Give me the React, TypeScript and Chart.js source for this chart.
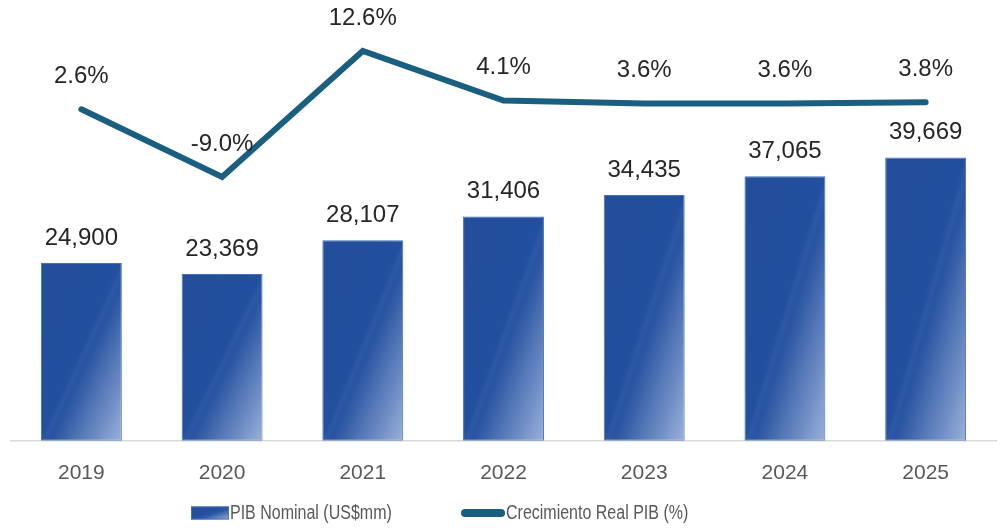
import React, { useEffect, useRef } from "react";
import { Chart, registerables } from "chart.js";

Chart.register(...registerables);

// ---- Data ----
const years: string[] = ["2019", "2020", "2021", "2022", "2023", "2024", "2025"];
const pibNominal: number[] = [24900, 23369, 28107, 31406, 34435, 37065, 39669];
const crecimientoReal: number[] = [2.6, -9.0, 12.6, 4.1, 3.6, 3.6, 3.8];
const barSeriesLabel = "PIB Nominal (US$mm)";
const lineSeriesLabel = "Crecimiento Real PIB (%)";

// ---- Styles ----
const LINE_COLOR = "#1A5F80";
const LABEL_COLOR = "#262626";
const TICK_COLOR = "#595959";
const FONT = '"Liberation Sans", Arial, sans-serif';
const BAR_FRACTION = 0.575;

function barGradient(ctx: CanvasRenderingContext2D, x0: number, y0: number, w: number, h: number) {
  const s = (2 * w * h) / (h * h + w * w);
  const g = ctx.createLinearGradient(x0, y0, x0 + s * h, y0 + s * w);
  g.addColorStop(0, "#234E9B");
  g.addColorStop(0.49, "#224F9E");
  g.addColorStop(0.52, "#2C58A5");
  g.addColorStop(0.56, "#2954A1");
  g.addColorStop(1, "#9AB0DA");
  return g;
}

const fmtThousands = (v: number) => v.toLocaleString("en-US");
const fmtPct = (v: number) => v.toFixed(1) + "%";

const valueLabelsPlugin = {
  id: "valueLabels",
  afterDatasetsDraw(chart: any) {
    const ctx = chart.ctx as CanvasRenderingContext2D;
    ctx.save();
    ctx.font = `24px ${FONT}`;
    ctx.fillStyle = LABEL_COLOR;
    ctx.textAlign = "center";
    ctx.textBaseline = "middle";
    chart.getDatasetMeta(0).data.forEach((el: any, i: number) => {
      ctx.fillText(fmtThousands(pibNominal[i]), el.x, el.y - 25);
    });
    chart.getDatasetMeta(1).data.forEach((el: any, i: number) => {
      ctx.fillText(fmtPct(crecimientoReal[i]), el.x, el.y - 33);
    });
    ctx.restore();
  },
};

function narrowText(ctx: CanvasRenderingContext2D, text: string, x: number, y: number) {
  ctx.save();
  ctx.translate(x, y);
  ctx.scale(0.8, 1);
  ctx.fillText(text, 0, 0);
  ctx.restore();
}

const customLegendPlugin = {
  id: "customLegend",
  afterDraw(chart: any) {
    const ctx = chart.ctx as CanvasRenderingContext2D;
    const cy = chart.height - 15;
    ctx.save();
    // bar swatch
    const bx = 191, bw = 38, bh = 13;
    ctx.fillStyle = barGradient(ctx, bx, cy - bh / 2, bw, bh);
    ctx.fillRect(bx, cy - bh / 2, bw, bh);
    ctx.strokeStyle = "#4470B8";
    ctx.lineWidth = 1;
    ctx.strokeRect(bx + 0.5, cy - bh / 2 + 0.5, bw - 1, bh - 1);
    ctx.font = `20px ${FONT}`;
    ctx.fillStyle = TICK_COLOR;
    ctx.textAlign = "left";
    ctx.textBaseline = "middle";
    narrowText(ctx, chart.data.datasets[0].label, bx + bw + 1, cy);
    // line swatch
    const lx = 465, lw = 36;
    ctx.strokeStyle = LINE_COLOR;
    ctx.lineWidth = 8;
    ctx.lineCap = "round";
    ctx.beginPath();
    ctx.moveTo(lx, cy);
    ctx.lineTo(lx + lw, cy);
    ctx.stroke();
    ctx.fillStyle = TICK_COLOR;
    narrowText(ctx, chart.data.datasets[1].label, lx + lw + 5, cy);
    ctx.restore();
  },
};

export default function App() {
  const canvasRef = useRef<HTMLCanvasElement | null>(null);

  useEffect(() => {
    if (!canvasRef.current) return;
    const chart = new Chart(canvasRef.current, {
      type: "bar",
      data: {
        labels: years,
        datasets: [
          {
            type: "bar",
            label: barSeriesLabel,
            data: pibNominal,
            yAxisID: "y",
            order: 1,
            categoryPercentage: 1,
            barPercentage: BAR_FRACTION,
            borderColor: "#4470B8",
            borderWidth: 1,
            borderSkipped: false,
            backgroundColor: (c: any) => {
              const ch = c.chart;
              const sx = ch.scales?.x;
              const sy = ch.scales?.y;
              if (c.type !== "data" || !sx || !sy || !ch.chartArea) return "#234F9E";
              const catW = (ch.chartArea.right - ch.chartArea.left) / years.length;
              const w = catW * BAR_FRACTION;
              const xc = sx.getPixelForValue(c.dataIndex);
              const top = sy.getPixelForValue(pibNominal[c.dataIndex]);
              const base = sy.getPixelForValue(0);
              return barGradient(ch.ctx, xc - w / 2, top, w, base - top);
            },
          } as any,
          {
            type: "line",
            label: lineSeriesLabel,
            data: crecimientoReal,
            yAxisID: "y1",
            order: 0,
            borderColor: LINE_COLOR,
            backgroundColor: LINE_COLOR,
            borderWidth: 6,
            borderCapStyle: "round",
            borderJoinStyle: "miter",
            pointRadius: 0,
            pointHoverRadius: 0,
            tension: 0,
          } as any,
        ],
      },
      options: {
        animation: false,
        responsive: false,
        events: [],
        layout: { padding: { left: 11, right: 6, top: 0, bottom: 22 } },
        plugins: {
          legend: { display: false },
          tooltip: { enabled: false },
          title: { display: false },
        },
        scales: {
          x: {
            grid: { display: false, drawTicks: false },
            border: { display: true, color: "#D9D9D9", width: 1.5 },
            ticks: { color: TICK_COLOR, font: { size: 21, family: FONT }, padding: 20 },
          },
          y: { display: false, min: 0, max: 61740 },
          y1: { display: false, position: "right", min: -54.26, max: 21.34 },
        },
      },
      plugins: [valueLabelsPlugin, customLegendPlugin],
    });
    return () => chart.destroy();
  }, []);

  return (
    <div style={{ position: "fixed", left: 0, top: 0, width: 1002, height: 528, background: "#ffffff" }}>
      <canvas ref={canvasRef} width={1002} height={528} style={{ display: "block" }} />
    </div>
  );
}
